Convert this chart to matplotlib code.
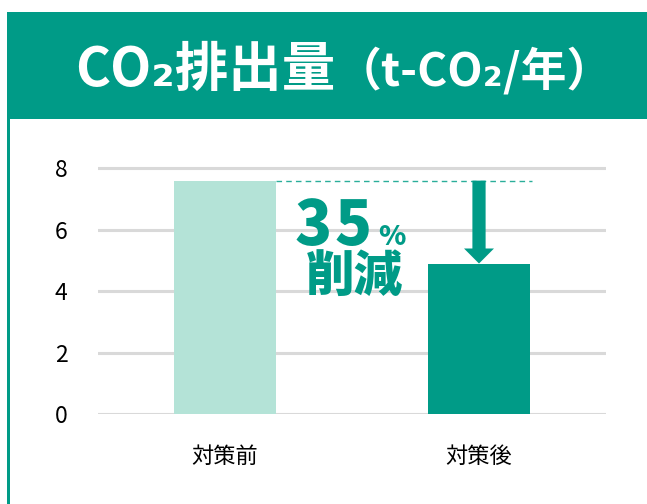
import matplotlib
matplotlib.use("Agg")
import matplotlib.pyplot as plt
from matplotlib.patches import Rectangle

plt.rcParams['font.family'] = ['Noto Sans CJK JP', 'DejaVu Sans']

title_main = "CO₂排出量"
title_unit = "（t-CO₂/年）"
categories = ["対策前", "対策後"]
values = [7.6, 4.9]
yticks = [0, 2, 4, 6, 8]
reduction_pct = "35"
reduction_label = "削減"

TEAL = "#009B87"
MINT = "#B4E3D7"
GRID = "#D9D9D9"

W, H = 647, 504
fig = plt.figure(figsize=(W/100, H/100), dpi=100)
fig.patch.set_facecolor("white")

def fx(px):
    return px / W

def fy(py):
    return (H - py) / H

# header band and left border
fig.add_artist(Rectangle((fx(7), fy(119)), 1.0, 107/H,
                         transform=fig.transFigure, facecolor=TEAL, edgecolor="none", zorder=0))
fig.add_artist(Rectangle((fx(7), 0), 2.5/W, fy(119),
                         transform=fig.transFigure, facecolor=TEAL, edgecolor="none", zorder=0))
base = fy(86)
t_main = fig.text(fx(75), base, title_main, color="white", fontsize=38.5, fontweight="bold",
                  ha="left", va="baseline")
renderer = fig.canvas.get_renderer()
bb = t_main.get_window_extent(renderer)
fig.text(bb.x1 / W, base, title_unit, color="white", fontsize=33, fontweight="bold",
         ha="left", va="baseline")

ax = fig.add_axes([fx(98), fy(414), 508/W, 261/H])
x = list(range(len(categories)))
ax.bar(x, values, width=0.4, color=[MINT, TEAL], zorder=2)
ax.set_xlim(-0.5, 1.5)
ax.set_ylim(0, 8.5)
ax.set_yticks(yticks)
ax.set_yticklabels([str(t) for t in yticks], fontsize=16.5)
ax.set_xticks(x)
ax.set_xticklabels(categories, fontsize=16)
ax.tick_params(axis="y", length=0, pad=22, colors="black")
ax.tick_params(axis="x", length=0, pad=22, colors="black")
for s in ax.spines.values():
    s.set_visible(False)
ax.grid(axis="y", color=GRID, linewidth=2.2, zorder=0)
ax.set_axisbelow(True)

# dashed reference line at before-value
ax.plot([0.2, 1.21], [values[0], values[0]], color="#2AAE9A", linewidth=1.0,
        linestyle=(0, (4, 3)), zorder=3, solid_capstyle="butt")
# arrow from before-level down to after bar
ax.arrow(1, values[0], 0, values[1] - values[0], width=0.052, head_width=0.118,
         head_length=0.49, length_includes_head=True, color=TEAL, zorder=3, linewidth=0)

ax.text(0.423, 0.6475, reduction_pct[0], transform=ax.transAxes, color=TEAL, fontsize=44,
        fontweight="black", ha="center", va="baseline")
ax.text(0.502, 0.6475, reduction_pct[1], transform=ax.transAxes, color=TEAL, fontsize=44,
        fontweight="black", ha="center", va="baseline")
ax.text(0.579, 0.6475, "%", transform=ax.transAxes, color=TEAL, fontsize=20,
        fontweight="black", ha="center", va="baseline")
ax.text(0.504, 0.525, reduction_label, transform=ax.transAxes, color=TEAL, fontsize=35,
        fontweight="black", ha="center", va="center")

fig.savefig("out.png", dpi=100, facecolor="white")
